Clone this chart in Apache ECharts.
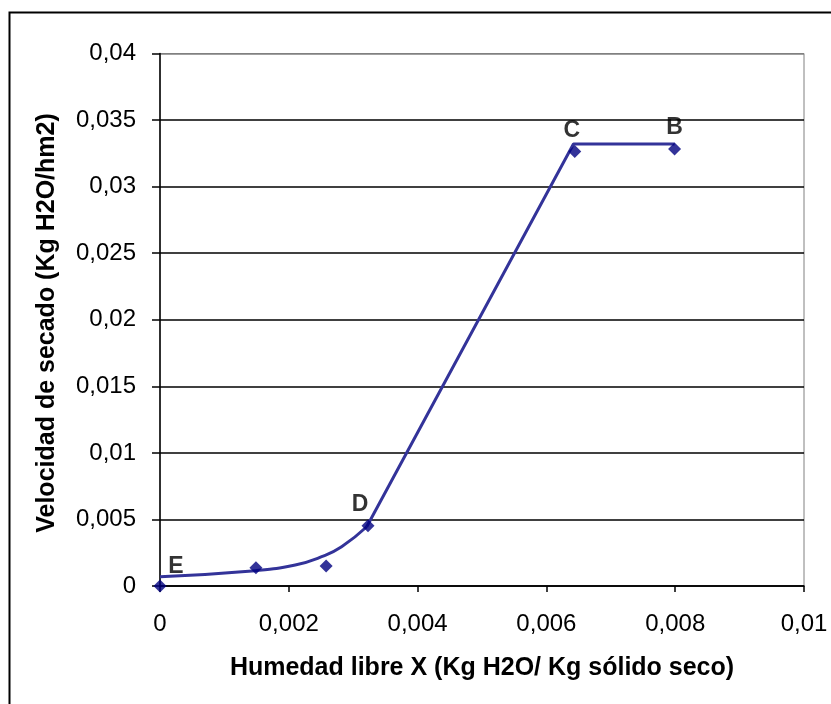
<!DOCTYPE html>
<html>
<head>
<meta charset="utf-8">
<script src="https://cdn.jsdelivr.net/npm/echarts@6/dist/echarts.min.js"></script>
<style>
html,body{margin:0;padding:0;background:#fff;}
#chart{width:831px;height:704px;}
</style>
</head>
<body>
<div id="chart"></div>
<script>
// Measured points (Humedad libre X, Velocidad de secado)
const pointX = [0, 0.00149, 0.00258, 0.00323, 0.00644, 0.00799];
const pointY = [0, 0.00137, 0.00150, 0.00453, 0.03264, 0.03282];
const pointLabels = ['E', '', '', 'D', 'C', 'B'];

// Hand-drawn drying curve
const curveLowX = [0, 0.00148, 0.00210, 0.00251, 0.00282, 0.00321];
const curveLowY = [0.00070, 0.00115, 0.00158, 0.00220, 0.00295, 0.00445];
const curveHighX = [0.00321, 0.00642, 0.00799];
const curveHighY = [0.00445, 0.03320, 0.03320];

const xTickLabels = ['0', '0,002', '0,004', '0,006', '0,008', '0,01'];
const yTickLabels = ['0', '0,005', '0,01', '0,015', '0,02', '0,025', '0,03', '0,035', '0,04'];

const xTitle = 'Humedad libre X (Kg H2O/ Kg sólido seco)';
const yTitle = 'Velocidad de secado (Kg H2O/hm2)';

const FONT = '"Liberation Sans", Arial, sans-serif';

const chart = echarts.init(document.getElementById('chart'), null, {renderer: 'canvas'});

const splitColors = yTickLabels.map((_, i) => i === yTickLabels.length - 1 ? '#808080' : '#000000');

const option = {
  animation: false,
  backgroundColor: '#ffffff',
  grid: {left: 160, top: 53.5, width: 644, height: 532.5, show: true, borderColor: '#808080', borderWidth: 1, backgroundColor: 'transparent'},
  xAxis: {
    type: 'value', min: 0, max: 0.01, interval: 0.002,
    axisLine: {show: true, lineStyle: {color: '#000', width: 1.5}},
    axisTick: {show: true, length: 6, lineStyle: {color: '#000', width: 1.5}},
    splitLine: {show: false},
    axisLabel: {
      margin: 26, color: '#000', fontFamily: FONT, fontSize: 24,
      formatter: v => xTickLabels[Math.round(v / 0.002)]
    }
  },
  yAxis: {
    type: 'value', min: 0, max: 0.04, interval: 0.005,
    axisLine: {show: true, lineStyle: {color: '#000', width: 1.5}},
    axisTick: {show: true, length: 8, lineStyle: {color: '#000', width: 1.5}},
    splitLine: {show: true, lineStyle: {color: splitColors, width: 1.5}},
    axisLabel: {
      margin: 24, color: '#000', fontFamily: FONT, fontSize: 24,
      formatter: v => yTickLabels[Math.round(v / 0.005)]
    }
  },
  graphic: [
    {type: 'rect', left: 7, top: 10, shape: {width: 1000, height: 1000}, style: {fill: 'none', stroke: '#000', lineWidth: 2}, z: 100, silent: true},
    {type: 'text', x: 482, y: 668, style: {text: xTitle, font: 'bold 25px ' + FONT, fill: '#000', textAlign: 'center', textVerticalAlign: 'middle'}},
    {type: 'text', x: 47, y: 323, rotation: Math.PI / 2, style: {text: yTitle, font: 'bold 25px ' + FONT, fill: '#000', textAlign: 'center', textVerticalAlign: 'middle'}}
  ],
  series: [
    {
      type: 'line', smooth: 0.5, symbol: 'none',
      data: curveLowX.map((x, i) => [x, curveLowY[i]]),
      lineStyle: {color: '#333399', width: 3}, z: 3
    },
    {
      type: 'line', smooth: false, symbol: 'none',
      data: curveHighX.map((x, i) => [x, curveHighY[i]]),
      lineStyle: {color: '#333399', width: 3}, z: 3
    },
    {
      type: 'scatter', symbol: 'diamond', symbolSize: 13,
      itemStyle: {color: '#000080'},
      label: {
        show: true, position: 'top', distance: 3,
        formatter: p => pointLabels[p.dataIndex],
        color: '#000', fontFamily: FONT, fontSize: 23, fontWeight: 'bold'
      },
      z: 4
    }
  ]
};
option.series[2].data = pointX.map((x, i) => {
  const d = {value: [x, pointY[i]]};
  if (pointLabels[i] === 'E') d.label = {offset: [16, 2]};
  if (pointLabels[i] === 'D') d.label = {offset: [-8, 0]};
  if (pointLabels[i] === 'C') d.label = {offset: [-3, 0]};
  return d;
});
chart.setOption(option);
</script>
</body>
</html>
